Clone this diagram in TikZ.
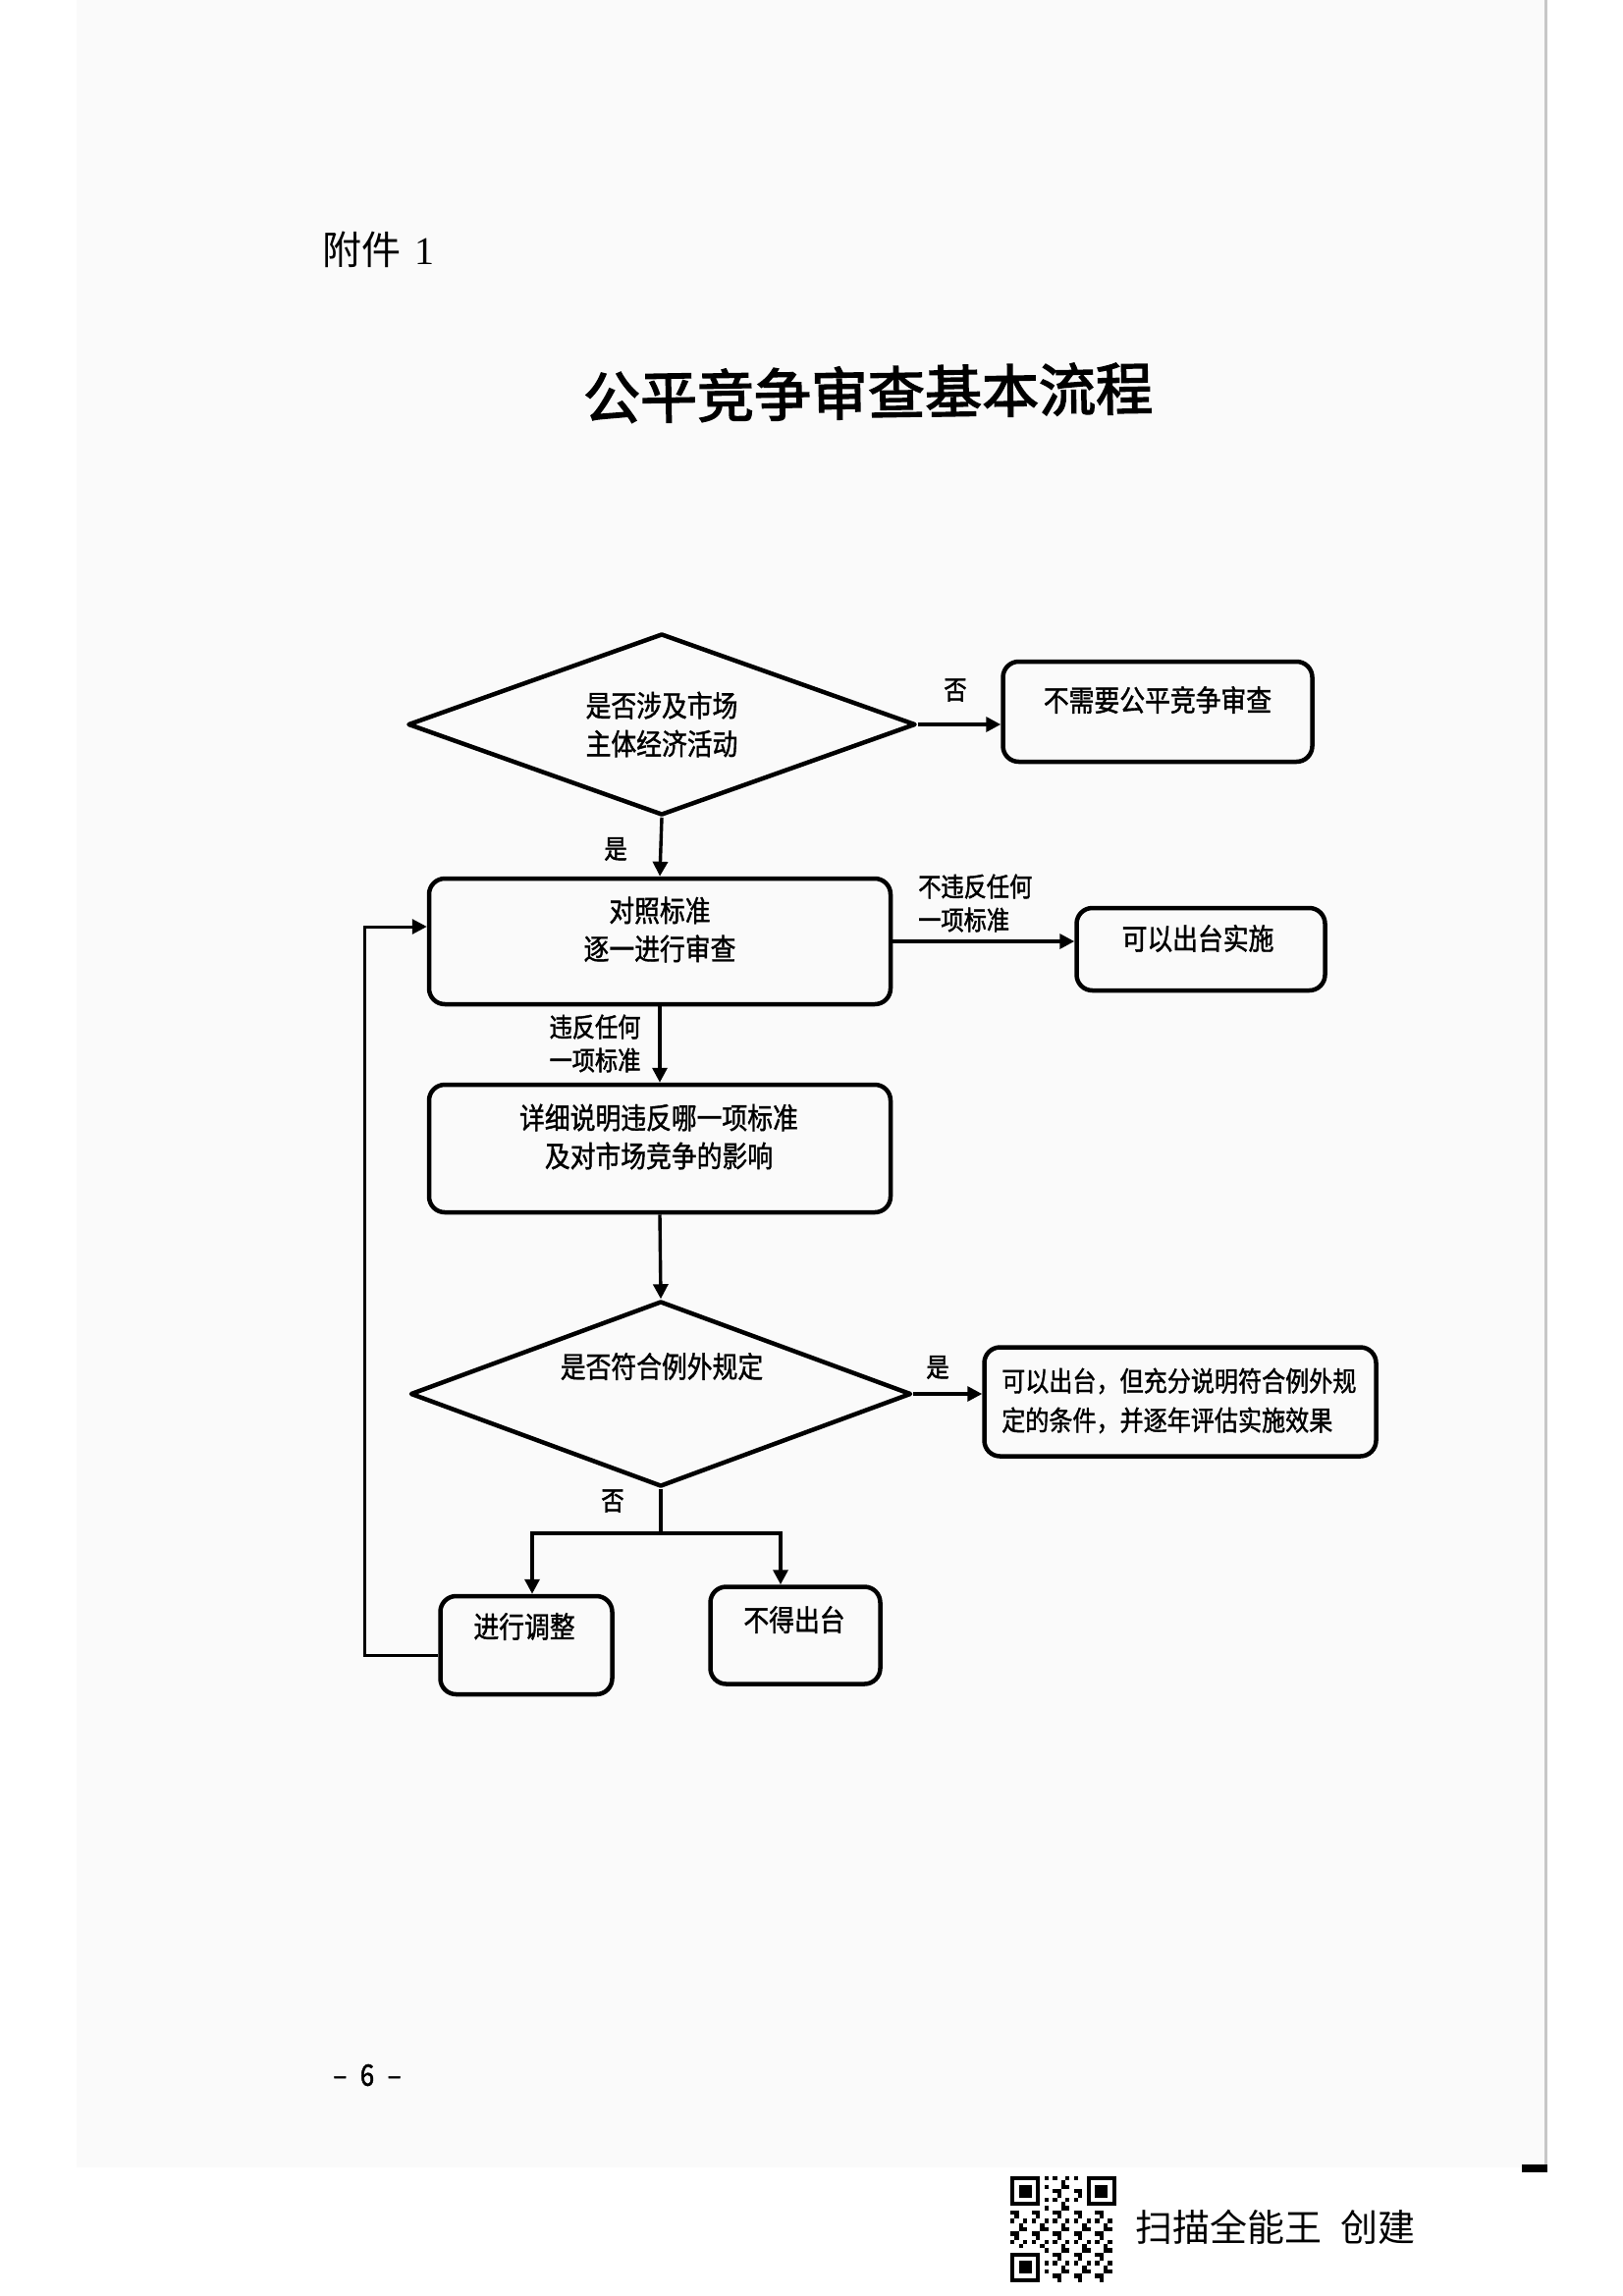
\documentclass[tikz,border=0pt]{standalone}
\usepackage{fontspec}
\setmainfont{Noto Sans CJK SC}
\newfontfamily\boxfont{Noto Sans CJK SC}[FakeStretch=0.86,FakeBold=1.3]
\newfontfamily\labfont{Noto Sans CJK SC}[FakeStretch=0.86,FakeBold=1.6]
\newfontfamily\titlefont{Noto Sans CJK SC}[FakeBold=2.5]
\newfontfamily\numfont{Liberation Serif}
\usetikzlibrary{shapes.geometric,arrows.meta}
\begin{document}
\begin{tikzpicture}[x=1pt,y=-1pt,
  shape outline/.style={draw, line width=4.5pt},
  box/.style={shape outline, rounded corners=16pt, inner sep=0pt},
  dia/.style={shape outline, diamond, inner sep=0pt, line join=round},
  btext/.style={font={\boxfont\fontsize{30}{39}\selectfont}, align=center, inner sep=0pt},
  arr/.style={line width=3.4pt, -{Triangle[length=15pt,width=15pt]}},
  lab/.style={font={\labfont\fontsize{27}{34}\selectfont}, inner sep=0pt},
]
\useasboundingbox (0,0) rectangle (1653,2339);
% scanned page background
\fill[black!2] (78,0) rectangle (1574,2208);
\draw[black!22, line width=3pt] (1574,0) -- (1574,2208);
\fill[black] (1550,2205) rectangle (1576,2213);

% page headings
\node[anchor=west, inner sep=0pt, font=\fontsize{40}{40}\selectfont] (att) at (328,254) {附件\hspace{0.35em}{\numfont 1}};
\node[inner sep=0pt, font={\titlefont\fontsize{58}{58}\selectfont}, rotate=1] (title) at (884,400) {公平竞争审查基本流程};

% shapes
\node[dia, minimum width=517pt, minimum height=185pt] (d1) at (674,738) {};
\node[btext] (d1t) at (674,738) {是否涉及市场\\主体经济活动};
\node[box, minimum width=315pt, minimum height=102pt] (b1) at (1179,725) {};
\node[btext] (b1t) at (1179,713) {不需要公平竞争审查};
\node[box, minimum width=470pt, minimum height=128pt] (b2) at (672,959) {};
\node[btext] (b2t) at (672,947) {对照标准\\逐一进行审查};
\node[box, minimum width=253pt, minimum height=84pt] (b3) at (1223,967) {};
\node[btext] (b3t) at (1220,956) {可以出台实施};
\node[box, minimum width=470pt, minimum height=130pt] (b4) at (672,1170) {};
\node[btext] (b4t) at (671,1158) {详细说明违反哪一项标准\\及对市场竞争的影响};
\node[dia, minimum width=510pt, minimum height=189pt] (d2) at (673,1420) {};
\node[btext] (d2t) at (674,1392) {是否符合例外规定};
\node[box, minimum width=399pt, minimum height=111pt] (b5) at (1202,1428) {};
\node[btext, anchor=west, align=left, font={\boxfont\fontsize{28}{40}\selectfont}] (b5t) at (1020,1427) {可以出台，但充分说明符合例外规\\定的条件，并逐年评估实施效果};
\node[box, minimum width=175pt, minimum height=100pt] (b6) at (536,1676) {};
\node[btext] (b6t) at (534,1657) {进行调整};
\node[box, minimum width=173pt, minimum height=99pt] (b7) at (810,1666) {};
\node[btext] (b7t) at (809,1650) {不得出台};

% labels
\node[lab] (l1) at (973,703) {否};
\node[lab] (l2) at (627,865) {是};
\node[lab, anchor=west, align=left] (l3) at (935,920) {不违反任何\\一项标准};
\node[lab, align=center] (l4) at (606,1063) {违反任何\\一项标准};
\node[lab] (l5) at (955,1393) {是};
\node[lab] (l6) at (624,1529) {否};

% connectors
\draw[arr] (d1.east) -- (d1.east -| b1.west);
\draw[arr] (d1.south) -- (b2.north);
\draw[arr] (b2.east) -- (b2.east -| b3.west);
\draw[arr] (b2.south) -- (b4.north);
\draw[arr] (b4.south) -- (d2.north);
\draw[arr] (d2.east) -- (d2.east -| b5.west);
\coordinate (br) at (673,1562);
\draw[line width=3.4pt] (d2.south) -- (br);
\draw[arr] (br) -| ([xshift=6pt]b6.north);
\draw[arr] (br) -| ([xshift=-15pt]b7.north);
\coordinate (fbx) at (371,1300);
\draw[arr, line width=3pt] ([yshift=-10pt]b6.west) -| (fbx) |- ([yshift=15pt]b2.west);

% page number
\node[inner sep=0pt, font={\labfont\fontsize{30}{30}\selectfont}] (pg) at (374,2114) {–\hspace{0.45em}6\hspace{0.45em}–};

% footer: QR code and text
\def\qm{4.32}
\foreach \i in {0,...,24}{\foreach \j in {0,...,24}{
  \pgfmathtruncatemacro\v{mod(\i*\i*3+\j*\j*5+\i*\j*7+\i+2*\j,5)}
  \ifnum\v<2 \fill (1029+\i*\qm,2217+\j*\qm) rectangle ++(\qm,\qm);\fi
}}
\foreach \a/\b/\wa/\wb in {0/0/0/0,18/0/17/0,0/18/0/17}{
  \fill[white] (1029+\wa*\qm,2217+\wb*\qm) rectangle ++(8*\qm,8*\qm);
  \fill[black] (1029+\a*\qm,2217+\b*\qm) rectangle ++(7*\qm,7*\qm);
  \fill[white] (1029+\a*\qm+\qm,2217+\b*\qm+\qm) rectangle ++(5*\qm,5*\qm);
  \fill[black] (1029+\a*\qm+2*\qm,2217+\b*\qm+2*\qm) rectangle ++(3*\qm,3*\qm);
}
\node[anchor=west, inner sep=0pt, font=\fontsize{38}{38}\selectfont] (ft) at (1156,2269) {扫描全能王\hspace{0.5em}创建};
\end{tikzpicture}
\end{document}
